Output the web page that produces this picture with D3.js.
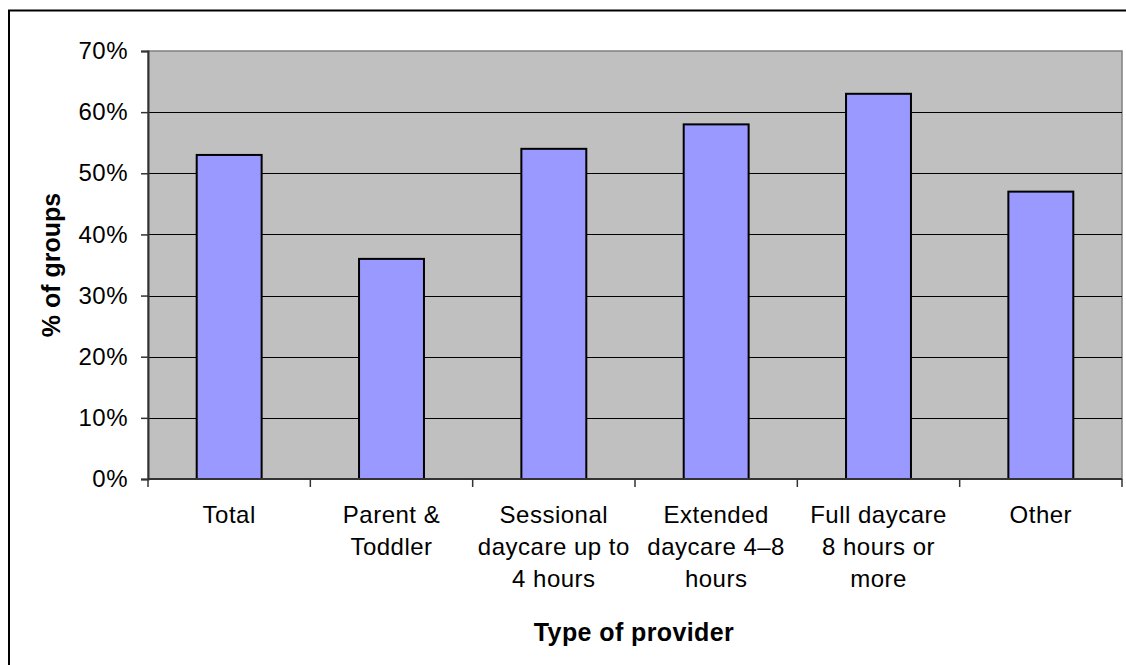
<!DOCTYPE html>
<html><head><meta charset="utf-8">
<script src="https://cdn.jsdelivr.net/npm/d3@7"></script>
<style>html,body{margin:0;padding:0;background:#fff;}svg{display:block;}</style>
</head><body>
<svg id="chart" width="1126" height="665"></svg>
<script>
const categories = ["Total", "Parent & Toddler", "Sessional daycare up to 4 hours", "Extended daycare 4–8 hours", "Full daycare 8 hours or more", "Other"];
const categoryLines = [["Total"], ["Parent &", "Toddler"], ["Sessional", "daycare up to", "4 hours"], ["Extended", "daycare 4–8", "hours"], ["Full daycare", "8 hours or", "more"], ["Other"]];
const values = [0.53, 0.36, 0.54, 0.58, 0.63, 0.47];
const yTicks = [0, 0.1, 0.2, 0.3, 0.4, 0.5, 0.6, 0.7];
const yTitle = "% of groups";
const xTitle = "Type of provider";

const svg = d3.select("#chart");
const font = "'Liberation Sans', Arial, sans-serif";
const L = 148, R = 1122, T = 51, B = 479;

// outer frame
svg.append("rect").attr("x", 9).attr("y", 10.5).attr("width", 1140).attr("height", 700)
  .attr("fill", "#fff").attr("stroke", "#000").attr("stroke-width", 2);

const x = d3.scaleBand().domain(categories).range([L, R]).paddingInner(0.6).paddingOuter(0.3);
const y = d3.scaleLinear().domain([0, 0.7]).range([B, T]);

// plot area
svg.append("rect").attr("x", L).attr("y", T).attr("width", R - L).attr("height", B - T)
  .attr("fill", "#c0c0c0").attr("stroke", "#808080").attr("stroke-width", 1.5);

// gridlines
svg.append("g").selectAll("line").data(yTicks.filter(d => d > 0 && d < 0.7)).join("line")
  .attr("x1", L).attr("x2", R).attr("y1", d => Math.round(y(d)) + 0.5).attr("y2", d => Math.round(y(d)) + 0.5)
  .attr("stroke", "#000").attr("stroke-width", 1);

// bars
svg.append("g").selectAll("rect").data(values).join("rect")
  .attr("x", (d, i) => x(categories[i]))
  .attr("y", d => y(d))
  .attr("width", x.bandwidth())
  .attr("height", d => B - y(d))
  .attr("fill", "#9999ff").attr("stroke", "#000").attr("stroke-width", 2);

// y axis
const yAxis = d3.axisLeft(y).tickValues(yTicks).tickFormat(d3.format(".0%")).tickSize(7).tickPadding(13);
const gy = svg.append("g").attr("transform", `translate(${L},0)`).call(yAxis);
gy.select(".domain").attr("stroke", "#333").attr("stroke-width", 2);
gy.selectAll(".tick line").attr("stroke", "#333").attr("stroke-width", 1.5);
gy.selectAll(".tick text").attr("font-family", font).attr("font-size", 24).attr("letter-spacing", 0.5).attr("fill", "#000");

// x axis (ticks at category boundaries)
const gx = svg.append("g").attr("transform", `translate(0,${B})`);
gx.append("line").attr("x1", L).attr("x2", R).attr("y1", 0).attr("y2", 0).attr("stroke", "#333").attr("stroke-width", 2);
const step = x.step();
const bounds = d3.range(categories.length + 1).map(i => L + i * step);
gx.selectAll("line.tk").data(bounds).join("line").attr("class", "tk")
  .attr("x1", d => d).attr("x2", d => d).attr("y1", 0).attr("y2", 8)
  .attr("stroke", "#333").attr("stroke-width", 1.5);

// category labels
const lab = svg.append("g").attr("font-family", font).attr("font-size", 24).attr("letter-spacing", 0.5)
  .attr("fill", "#000").attr("text-anchor", "middle");
categoryLines.forEach((lines, i) => {
  const cx = x(categories[i]) + x.bandwidth() / 2;
  lines.forEach((ln, j) => {
    lab.append("text").attr("x", cx).attr("y", 523 + j * 32).text(ln);
  });
});

// axis titles
svg.append("text").attr("x", 634).attr("y", 641).attr("text-anchor", "middle")
  .attr("font-family", font).attr("font-size", 25).attr("letter-spacing", 0.4).attr("font-weight", "bold").text(xTitle);
svg.append("text").attr("transform", `translate(60,${(T + B) / 2}) rotate(-90)`).attr("text-anchor", "middle")
  .attr("font-family", font).attr("font-size", 25).attr("font-weight", "bold").text(yTitle);
</script>
</body></html>
